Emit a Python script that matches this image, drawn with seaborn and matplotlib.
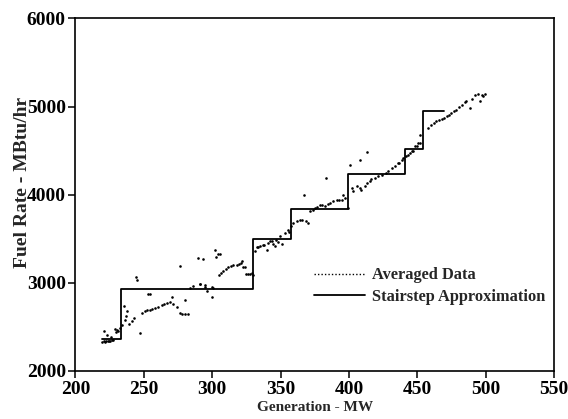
import matplotlib
matplotlib.use("Agg")
import matplotlib.pyplot as plt
from matplotlib.lines import Line2D
import seaborn as sns
import pandas as pd

# Averaged unit data: generation (MW) vs fuel rate (MBtu/hr)
gen_mw = [
    219.5, 220.5, 221.5, 222.5, 223.5, 224.5, 225.5, 226.5, 227.5, 220.8,
    223.0, 225.7, 228.9, 230.5, 232.5, 231.0, 229.5,
    235.5, 238.0, 236.0, 239.0, 241.0, 243.0, 247.0, 244.0, 245.0, 234.0, 237.0,
    248.4, 250.8, 252.5, 254.5, 256.3, 258.1, 260.6, 263.0, 265.0, 266.7,
    269.1, 271.5, 274.0, 276.4, 278.0, 280.0, 282.0,
    270.3, 280.0, 276.4, 253.3, 254.5,
    283.7, 286.0, 291.0, 294.7, 299.6,
    289.8, 293.0, 302.0, 304.0, 305.6, 303.0,
    291.0, 294.7, 296.0, 300.8, 300.0,
    305.0, 306.5, 308.0, 310.0, 311.7, 313.5, 315.4, 317.9, 319.5, 320.8,
    321.5, 322.7, 324.0, 325.0, 326.3, 327.6, 328.8, 330.0,
    331.0, 332.5, 333.6, 335.0, 337.3, 338.0, 339.8, 341.0, 342.0, 343.4,
    344.6, 346.0, 347.0, 348.3, 349.5, 350.8, 353.0, 355.6, 356.5, 358.0,
    359.0, 361.7, 364.0, 365.4, 367.0, 368.5, 369.8, 371.5, 373.5, 375.5,
    377.0, 378.8, 380.5, 382.5, 383.0, 384.5, 386.0, 388.5, 391.0, 393.0,
    394.6, 395.8, 397.5, 399.5,
    400.7, 402.0, 403.0, 405.6, 408.0, 408.0, 409.0, 411.7, 413.0, 413.0,
    415.3, 416.5, 419.0, 421.4, 424.0, 427.0, 428.7, 431.2, 433.6, 436.0,
    437.0, 438.5, 439.7,
    442.0, 443.3, 444.6, 445.8, 447.0, 448.2, 449.5, 450.6, 452.0, 452.0,
    458.0, 460.4, 462.0, 464.0, 466.0, 467.8, 469.5, 471.4, 473.0, 475.0,
    477.0, 478.7, 480.5, 482.4, 484.8, 486.0, 488.4, 490.0, 492.0, 494.5,
    495.8, 497.0, 498.2, 499.5,
]
fuel_rate = [
    2330, 2335, 2332, 2340, 2338, 2345, 2342, 2350, 2348, 2451,
    2410, 2383, 2474, 2470, 2489, 2455, 2440,
    2739, 2685, 2580, 2530, 2571, 2600, 2428, 3072, 3035, 2520, 2620,
    2655, 2685, 2690, 2693, 2705, 2712, 2723, 2750, 2765, 2776,
    2788, 2761, 2731, 2655, 2650, 2648, 2652,
    2845, 2807, 3193, 2871, 2871,
    2943, 2966, 2989, 2974, 2958,
    3281, 3273, 3375, 3333, 3330, 3292,
    2985, 2958, 2909, 2940, 2837,
    3091, 3115, 3140, 3160, 3178, 3190, 3201, 3204, 3215, 3223,
    3253, 3185, 3178, 3099, 3095, 3099, 3111, 3091,
    3364, 3405, 3402, 3413, 3428, 3432, 3375, 3450, 3477, 3470,
    3440, 3420, 3489, 3460, 3534, 3443, 3565, 3600, 3580, 3640,
    3678, 3697, 3716, 3716, 4000, 3705, 3678, 3810, 3830, 3845,
    3860, 3886, 3880, 3875, 4190, 3895, 3905, 3924, 3943, 3940,
    3943, 4000, 3960, 3848,
    4341, 4076, 4037, 4095, 4076, 4398, 4057, 4095, 4133, 4481,
    4152, 4178, 4190, 4208, 4227, 4247, 4265, 4303, 4322, 4360,
    4360, 4398, 4417,
    4435, 4455, 4473, 4492, 4492, 4549, 4549, 4587, 4587, 4682,
    4758, 4796, 4815, 4833, 4845, 4860, 4875, 4890, 4910, 4928,
    4945, 4966, 4990, 5023, 5049, 5060, 4985, 5090, 5136, 5148,
    5060, 5136, 5117, 5140,
]

# Stairstep approximation: block edges (MW) and fuel-rate level of each block
step_mw = [219.5, 233.0, 330.0, 358.0, 399.5, 441.0, 454.0, 469.5]
step_fuel = [2360, 2925, 3500, 3835, 4230, 4515, 4955, 4955]

x_ticks = [200, 250, 300, 350, 400, 450, 500, 550]
y_ticks = [2000, 3000, 4000, 5000, 6000]

sns.set_style("white")
plt.rcParams["font.family"] = ["Liberation Serif", "DejaVu Serif"]
plt.rcParams["font.weight"] = "bold"

points = pd.DataFrame({"gen": gen_mw, "fuel": fuel_rate})
steps = pd.DataFrame({"gen": step_mw, "fuel": step_fuel})

fig = plt.figure(figsize=(5.68, 4.19), dpi=100)
ax = fig.add_axes([0.1329, 0.1146, 0.8424, 0.8413])

sns.scatterplot(data=points, x="gen", y="fuel", ax=ax, s=3.5, color="black",
                linewidth=0, marker="o")
sns.lineplot(data=steps, x="gen", y="fuel", ax=ax, color="black", lw=1.3,
             drawstyle="steps-post", estimator=None, sort=False)

ax.set_xlim(200, 550)
ax.set_ylim(2000, 6000)
ax.set_xticks(x_ticks)
ax.set_yticks(y_ticks)
ax.tick_params(direction="out", length=5, width=1.1, labelsize=14, pad=2,
               bottom=True, left=True, colors="black")
for lbl in ax.get_xticklabels() + ax.get_yticklabels():
    lbl.set_fontweight("bold")
for sp in ax.spines.values():
    sp.set_visible(True)
    sp.set_color("black")
    sp.set_linewidth(1.2)

ax.set_xlabel("Generation - MW", fontsize=11, fontweight="bold")
ax.xaxis.set_label_coords(0.5, -0.085)
ax.set_ylabel("Fuel Rate - MBtu/hr", fontsize=14, fontweight="bold")
ax.yaxis.set_label_coords(-0.094, 0.535)

handles = [
    Line2D([], [], color="black", lw=1.0, linestyle=(0, (1, 1.5))),
    Line2D([], [], color="black", lw=1.3),
]
ax.legend(handles, ["Averaged Data", "Stairstep Approximation"],
          loc="upper left", bbox_to_anchor=(0.468, 0.336), frameon=False,
          handlelength=3.1, handletextpad=0.45, labelspacing=0.35,
          prop={"family": "Liberation Serif", "weight": "bold", "size": 11.8})

fig.savefig("out.png", dpi=100)
